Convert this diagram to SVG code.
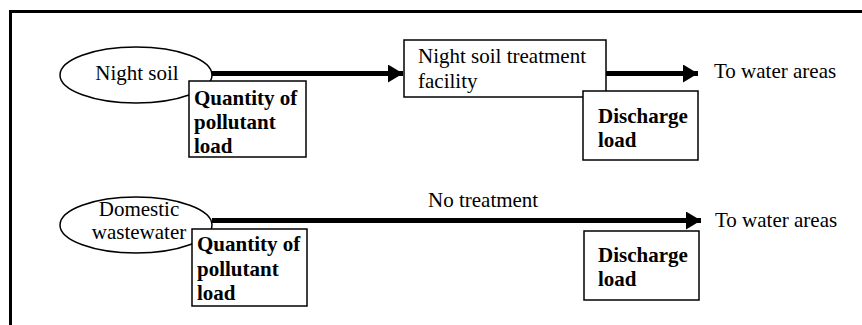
<svg xmlns="http://www.w3.org/2000/svg" width="862" height="325" viewBox="0 0 862 325" font-family="'Liberation Serif', 'Times New Roman', Times, serif" font-size="21">
  <style>
    .frame { fill: none; stroke: #000; stroke-width: 3; }
    .shape { fill: #fff; stroke: #000; stroke-width: 1.5; }
    .flow { fill: none; stroke: #000; stroke-width: 5; }
    .bold { font-weight: bold; }
    .mid { text-anchor: middle; }
  </style>
  <defs>
    <marker id="head" markerUnits="userSpaceOnUse" markerWidth="16" markerHeight="18" refX="15" refY="9" orient="auto">
      <path d="M0,0 L15,9 L0,18 Z" fill="#000"/>
    </marker>
  </defs>

  <rect width="862" height="325" fill="#fff"/>
  <!-- outer frame (left and top edges) -->
  <path class="frame" d="M10.5,325 V11.5 H862"/>

  <!-- connectors -->
  <g id="connectors">
    <line class="flow" x1="212" y1="73.5" x2="403" y2="73.5" marker-end="url(#head)"/>
    <line class="flow" x1="606" y1="73.5" x2="698" y2="73.5" marker-end="url(#head)"/>
    <line class="flow" x1="212" y1="220.5" x2="701" y2="220.5" marker-end="url(#head)"/>
    <text x="428" y="207">No treatment</text>
  </g>

  <!-- upper flow: night soil -->
  <g id="night-soil">
    <ellipse class="shape" cx="136" cy="75" rx="76" ry="28"/>
    <text class="mid" x="137" y="80">Night soil</text>
  </g>
  <g id="pollutant-load-1">
    <rect class="shape" x="189" y="81" width="117" height="76"/>
    <text class="bold" x="194" y="105">Quantity of</text>
    <text class="bold" x="194" y="129">pollutant</text>
    <text class="bold" x="194" y="153">load</text>
  </g>
  <g id="treatment-facility">
    <rect class="shape" x="404" y="40" width="202" height="57"/>
    <text x="418" y="63">Night soil treatment</text>
    <text x="418" y="88">facility</text>
  </g>
  <g id="discharge-load-1">
    <rect class="shape" x="583" y="91" width="115" height="69"/>
    <text class="bold" x="598" y="123">Discharge</text>
    <text class="bold" x="598" y="147">load</text>
  </g>
  <g id="water-areas-1">
    <text x="714" y="78">To water areas</text>
  </g>

  <!-- lower flow: domestic wastewater -->
  <g id="domestic-wastewater">
    <ellipse class="shape" cx="136" cy="225" rx="76" ry="28"/>
    <text class="mid" x="139" y="215.5">Domestic</text>
    <text class="mid" x="139" y="239">wastewater</text>
  </g>
  <g id="pollutant-load-2">
    <rect class="shape" x="192" y="229" width="115" height="77"/>
    <text class="bold" x="197" y="251">Quantity of</text>
    <text class="bold" x="197" y="276">pollutant</text>
    <text class="bold" x="197" y="300">load</text>
  </g>
  <g id="discharge-load-2">
    <rect class="shape" x="584" y="231" width="115" height="69"/>
    <text class="bold" x="598" y="262">Discharge</text>
    <text class="bold" x="598" y="286">load</text>
  </g>
  <g id="water-areas-2">
    <text x="715" y="227">To water areas</text>
  </g>
</svg>
